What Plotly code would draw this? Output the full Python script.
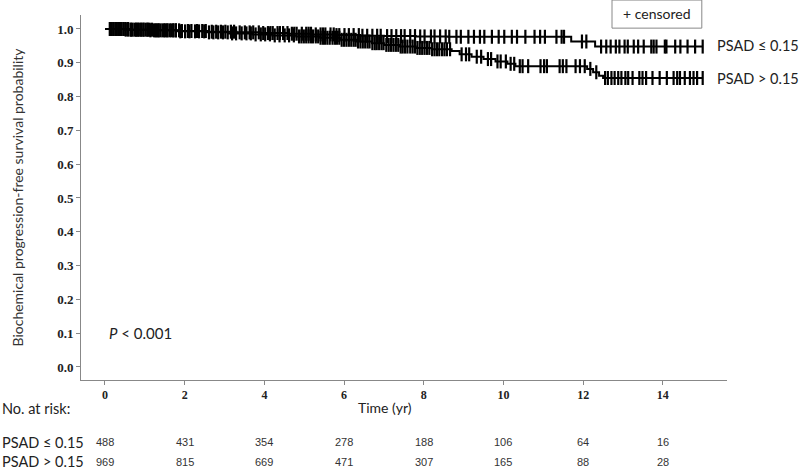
import plotly.graph_objects as go
import numpy as np

# step curves (time in years, survival probability)
low_t = [0, 0.6, 1.2, 1.9, 2.6, 3.3, 3.9, 4.6, 5.2, 5.8, 6.4, 7.0, 7.8, 8.6, 11.7, 12.3, 15.0]
low_s = [1.0, 0.998, 0.996, 0.994, 0.992, 0.990, 0.988, 0.986, 0.984, 0.982, 0.980, 0.979, 0.978, 0.977,
         0.963, 0.948, 0.948]

high_t = [0, 0.5, 1.1, 1.8, 2.5, 3.1, 3.7, 4.2, 4.8, 5.4, 5.9, 6.3, 6.7, 7.0, 7.4, 7.8, 8.2, 8.7, 8.9,
          9.2, 9.5, 9.8, 10.1, 10.3, 12.1, 12.25, 12.4, 12.5, 15.0]
high_s = [1.0, 0.998, 0.996, 0.993, 0.990, 0.987, 0.984, 0.981, 0.978, 0.974, 0.968, 0.963, 0.958, 0.953,
          0.948, 0.944, 0.940, 0.935, 0.925, 0.918, 0.911, 0.904, 0.897, 0.890, 0.882, 0.872, 0.862,
          0.855, 0.855]

# censoring times
low_cens = [0.12, 0.17, 0.22, 0.29, 0.35, 0.41, 0.47, 0.52, 0.58, 0.66, 0.74, 0.79, 0.83, 0.9, 0.97,
            1.06, 1.12, 1.18, 1.27, 1.33, 1.39, 1.48, 1.55, 1.62, 1.71, 1.78, 1.86, 1.93, 2.08, 2.17,
            2.31, 2.44, 2.53, 2.68, 2.79, 2.91, 3.02, 3.16, 3.24, 3.38, 3.51, 3.63, 3.72, 3.86, 3.97,
            4.09, 4.15, 4.21, 4.33, 4.39, 4.47, 4.58, 4.69, 4.75, 4.81, 4.94, 5.05, 5.11, 5.17, 5.29,
            5.41, 5.47, 5.53, 5.66, 5.74, 5.81, 5.88, 6.01, 6.12, 6.24, 6.37, 6.46, 6.58, 6.71, 6.83,
            6.92, 7.08, 7.19, 7.31, 7.43, 7.52, 7.66, 7.78, 7.91, 8.02, 8.18, 8.27, 8.41, 8.55, 8.64,
            8.82, 8.93, 9.12, 9.26, 9.41, 9.52, 9.71, 9.88, 10.02, 10.21, 10.34, 10.55, 10.78, 10.92,
            11.04, 11.33, 11.46, 11.52, 11.97, 12.08, 12.45, 12.58, 12.69, 12.82, 12.91, 13.04, 13.12,
            13.27, 13.38, 13.52, 13.71, 13.77, 13.84, 14.05, 14.09, 14.31, 14.44, 14.62, 14.81, 15.0]
high_cens = [0.15, 0.21, 0.27, 0.33, 0.38, 0.46, 0.52, 0.58, 0.64, 0.69, 0.78, 0.85, 0.91, 0.96, 1.02,
             1.08, 1.14, 1.23, 1.29, 1.35, 1.44, 1.51, 1.57, 1.66, 1.72, 1.78, 1.89, 2.01, 2.12, 2.26,
             2.36, 2.49, 2.61, 2.72, 2.84, 2.96, 3.08, 3.19, 3.29, 3.43, 3.55, 3.66, 3.78, 3.91, 4.02,
             4.14, 4.26, 4.38, 4.51, 4.62, 4.74, 4.87, 4.93, 4.99, 5.05, 5.11, 5.17, 5.22, 5.29, 5.35,
             5.41, 5.47, 5.52, 5.58, 5.64, 5.71, 5.77, 5.82, 5.88, 5.94, 6.0, 6.06, 6.12, 6.18, 6.24,
             6.29, 6.35, 6.41, 6.47, 6.53, 6.59, 6.64, 6.71, 6.77, 6.82, 6.88, 6.94, 6.99, 7.06, 7.12,
             7.18, 7.24, 7.3, 7.36, 7.42, 7.47, 7.53, 7.59, 7.66, 7.72, 7.78, 7.84, 7.9, 7.96, 8.02,
             8.08, 8.14, 8.21, 8.27, 8.33, 8.39, 8.46, 8.52, 8.58, 8.66, 8.95, 9.06, 9.14, 9.33, 9.44,
             9.61, 9.69, 9.85, 9.93, 10.06, 10.18, 10.27, 10.41, 10.48, 10.62, 10.93, 11.02, 11.09,
             11.41, 11.49, 11.58, 11.81, 11.92, 12.04, 12.18, 12.33, 12.55, 12.62, 12.71, 12.79, 12.88,
             12.96, 13.06, 13.13, 13.24, 13.41, 13.49, 13.58, 13.74, 13.92, 14.1, 14.27, 14.36, 14.43,
             14.55, 14.68, 14.77, 14.86, 15.0]

groups = ["PSAD ≤ 0.15", "PSAD > 0.15"]
risk_times = [0, 2, 4, 6, 8, 10, 12, 14]
risk_low = [488, 431, 354, 278, 188, 106, 64, 16]
risk_high = [969, 815, 669, 471, 307, 165, 88, 28]

SANS = "Lato"


def surv_at(times, surv, t):
    idx = np.searchsorted(times, t, side="right") - 1
    return [surv[i] for i in idx]


fig = go.Figure()
for t, s, c in [(low_t, low_s, low_cens), (high_t, high_s, high_cens)]:
    fig.add_trace(go.Scatter(x=t, y=s, mode="lines", line=dict(color="black", width=2, shape="hv"),
                             showlegend=False, hoverinfo="skip"))
    fig.add_trace(go.Scatter(x=c, y=surv_at(t, s, c), mode="markers",
                             marker=dict(symbol="line-ns-open", size=10, color="black",
                                         line=dict(color="black", width=2.2)),
                             showlegend=False))

fig.update_xaxes(range=[-0.602, 15.61], tickvals=risk_times, ticks="outside", ticklen=4,
                 tickcolor="#888", showline=True, linecolor="#888", linewidth=1,
                 showgrid=False, zeroline=False, automargin=False,
                 tickfont=dict(family="Liberation Serif", size=12, color="#222", weight="bold"))
fig.update_yaxes(range=[-0.0385, 1.0414], tickvals=[i / 10 for i in range(11)], tickformat=".1f",
                 ticks="outside", ticklen=4, tickcolor="#888", showline=True, linecolor="#888",
                 linewidth=1, showgrid=False, zeroline=False, automargin=False,
                 tickfont=dict(family="Liberation Serif", size=13, color="#222", weight="bold"),
                 title=dict(text="Biochemical progression-free survival probability",
                            font=dict(family=SANS, size=14, color="#333"), standoff=30))

ann = []
ann.append(dict(x=15.31, y=0.950, xref="x", yref="y", text=groups[0], showarrow=False,
                xanchor="left", yanchor="middle", font=dict(family=SANS, size=14.5, color="#222")))
ann.append(dict(x=15.31, y=0.853, xref="x", yref="y", text=groups[1], showarrow=False,
                xanchor="left", yanchor="middle", font=dict(family=SANS, size=14.5, color="#222")))
ann.append(dict(x=0.05, y=0.1, xref="x", yref="y", text="<i>P</i> < 0.001", showarrow=False,
                xanchor="left", yanchor="middle", font=dict(family=SANS, size=15, color="#222")))
ann.append(dict(x=0.892, y=1.003, xref="paper", yref="paper", text="+ censored", showarrow=False,
                xanchor="center", yanchor="middle", font=dict(family=SANS, size=14, color="#222")))
ann.append(dict(x=-0.1254, y=-0.077, xref="paper", yref="paper", text="No. at risk:", showarrow=False,
                xanchor="left", yanchor="middle", font=dict(family=SANS, size=14.5, color="#222")))
ann.append(dict(x=0.47, y=-0.075, xref="paper", yref="paper", text="Time (yr)", showarrow=False,
                xanchor="center", yanchor="middle", font=dict(family=SANS, size=14, color="#222")))
for g, row, yy in [(groups[0], risk_low, -0.170), (groups[1], risk_high, -0.224)]:
    ann.append(dict(x=-0.1254, y=yy, xref="paper", yref="paper", text=g, showarrow=False,
                    xanchor="left", yanchor="middle", font=dict(family=SANS, size=14.5, color="#222")))
    for t, n in zip(risk_times, row):
        ann.append(dict(x=t, y=yy, xref="x", yref="paper", text=str(n), showarrow=False,
                        xanchor="center", yanchor="middle",
                        font=dict(family="Liberation Sans", size=11, color="#333")))

fig.update_layout(
    width=800, height=469,
    margin=dict(l=81, r=73, t=15, b=89),
    plot_bgcolor="white", paper_bgcolor="white",
    annotations=ann,
    shapes=[dict(type="rect", xref="paper", yref="paper", x0=0.822, x1=0.961, y0=0.964, y1=1.041,
                 line=dict(color="#888", width=1))],
)

fig.write_html("out.html", config={"displayModeBar": False},
               post_script="document.body.style.margin='0';")
